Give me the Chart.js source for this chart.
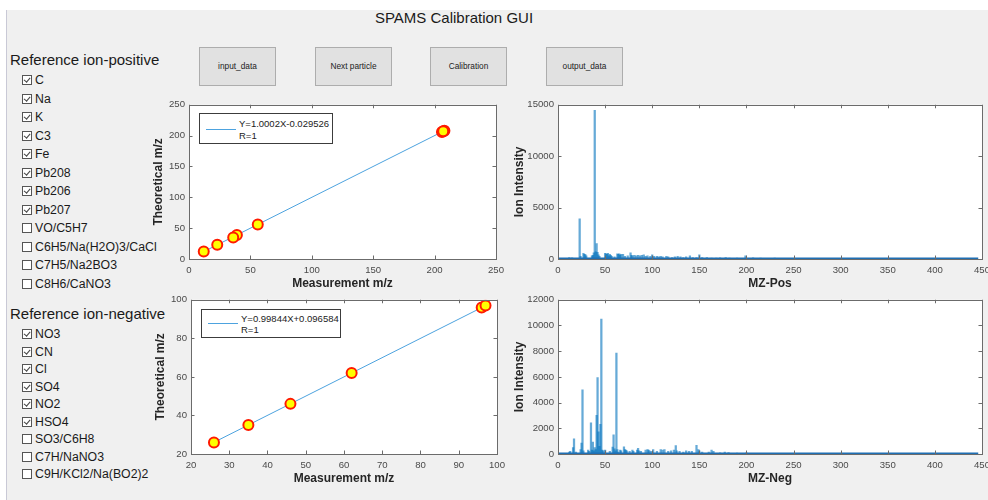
<!DOCTYPE html>
<html>
<head>
<meta charset="utf-8">
<script src="https://cdn.jsdelivr.net/npm/chart.js@4.4.1/dist/chart.umd.min.js"></script>
<style>
  html, body { margin: 0; padding: 0; width: 988px; height: 500px; overflow: hidden; background: #fff; }
  body { position: relative; font-family: "Liberation Sans", Arial, sans-serif; color: #1a1a1a; }
  #panel { position: absolute; left: 6px; top: 10px; right: 0; bottom: 0; background: #f0f0f0; border-left: 1px solid #c9c9d6; }
  .abs { position: absolute; white-space: nowrap; }
  #title { left: 0; width: 908px; top: 9px; text-align: center; font-size: 15px; line-height: 18px; }
  .heading { font-size: 15px; line-height: 18px; left: 10px; }
  .item { font-size: 12.3px; line-height: 14px; left: 35px; }
  .box { position: absolute; width: 8px; height: 8px; border: 1px solid #555; background: #fff; left: 22px; }
  .box.on::after { content: ''; position: absolute; left: 2.3px; top: -0.2px; width: 2.6px; height: 5.4px;
    border: solid #444; border-width: 0 1.2px 1.2px 0; transform: rotate(40deg); }
  .btn { position: absolute; top: 47px; width: 75px; height: 37px; background: #e1e1e1; border: 1px solid #adadad;
    font-size: 8.3px; line-height: 37px; text-align: center; color: #222; }
  canvas { position: absolute; }
  .legend { position: absolute; background: #fff; border: 1px solid #3c3c3c; }
  .legend .ln { position: absolute; height: 1px; background: #4da3df; width: 30px; }
  .legend .tx { position: absolute; font-size: 9.5px; line-height: 11px; color: #222; white-space: nowrap; }
</style>
</head>
<body>
<div id="panel"></div>
<div id="title" class="abs">SPAMS Calibration GUI</div>

<div class="btn" style="left:199px">input_data</div>
<div class="btn" style="left:315px">Next particle</div>
<div class="btn" style="left:430px">Calibration</div>
<div class="btn" style="left:546px">output_data</div>

<div id="ions"></div>

<canvas id="calPos" width="363" height="200" style="left:147px;top:95px"></canvas>
<canvas id="calNeg" width="362" height="200" style="left:149px;top:290px"></canvas>
<canvas id="specPos" width="488" height="200" style="left:508px;top:95px"></canvas>
<canvas id="specNeg" width="488" height="200" style="left:508px;top:290px"></canvas>

<div class="legend" style="left:199px;top:113px;width:132px;height:29px">
  <div class="ln" style="left:6px;top:15px"></div>
  <div class="tx" style="left:39px;top:4px">Y=1.0002X-0.029526</div>
  <div class="tx" style="left:39px;top:16px">R=1</div>
</div>
<div class="legend" style="left:201px;top:309px;width:138px;height:27px">
  <div class="ln" style="left:6px;top:13px"></div>
  <div class="tx" style="left:39px;top:3px">Y=0.99844X+0.096584</div>
  <div class="tx" style="left:39px;top:14px">R=1</div>
</div>

<script>
// ---- reference ion lists (GUI check boxes) ----
var posIons = ["C", "Na", "K", "C3", "Fe", "Pb208", "Pb206", "Pb207", "VO/C5H7", "C6H5/Na(H2O)3/CaCl", "C7H5/Na2BO3", "C8H6/CaNO3"];
var posChecked = [1, 1, 1, 1, 1, 1, 1, 1, 0, 0, 0, 0];
var negIons = ["NO3", "CN", "Cl", "SO4", "NO2", "HSO4", "SO3/C6H8", "C7H/NaNO3", "C9H/KCl2/Na(BO2)2"];
var negChecked = [1, 1, 1, 1, 1, 1, 0, 0, 0];

// ---- calibration points ----
var posMeasured = [12, 23, 39, 36, 56, 208, 206, 207];
var posTheory   = [12, 23, 39, 35, 56, 208, 206, 207];
var posFit = { slope: 1.0002, intercept: -0.029526 };

var negMeasured = [62, 26, 35, 96, 46, 97];
var negTheory   = [62, 26, 35, 96, 46, 97];
var negFit = { slope: 0.99844, intercept: 0.096584 };

// ---- spectra (m/z, intensity) ----
var posMz  = [12, 15, 23, 24, 27, 28, 29, 30, 36, 37, 38, 39, 40, 41, 42, 43, 44, 50, 51, 52, 53, 54, 55, 56, 57, 60,
              63, 64, 65, 66, 67, 69, 71, 74, 77, 78, 79, 81, 83, 85, 87, 89, 91, 93, 95, 98, 100, 102, 105, 107, 109,
              111, 115, 117, 121, 124, 127, 130, 133, 136, 140, 143, 147, 150, 153, 158, 163, 168, 172, 178, 182, 190,
              199, 207, 215, 230, 248];
var posInt = [150, 120, 3900, 250, 550, 450, 420, 300, 300, 350, 600, 14450, 700, 1500, 650, 400, 250, 550, 500, 450, 550,
              300, 450, 350, 250, 200, 500, 450, 500, 350, 450, 450, 250, 300, 600, 350, 300, 350, 300, 350, 300, 350,
              400, 250, 300, 250, 400, 250, 250, 200, 250, 200, 250, 200, 150, 200, 250, 200, 150, 200, 300, 150, 150,
              400, 150, 150, 100, 100, 120, 150, 100, 100, 300, 120, 80, 80, 60];

var negMz  = [12, 13, 16, 17, 19, 24, 25, 26, 27, 32, 33, 35, 36, 37, 38, 39, 40, 41, 42, 43, 44, 45, 46, 47, 48, 50, 55,
              58, 59, 60, 61, 62, 63, 64, 66, 67, 70, 71, 72, 73, 76, 79, 80, 84, 85, 86, 88, 93, 95, 96, 97, 99, 101,
              105, 109, 111, 113, 117, 120, 123, 125, 126, 129, 133, 136, 139, 142, 147, 149, 150, 153, 160, 163, 165,
              172, 177, 181, 190, 200, 210];
var negInt = [150, 200, 500, 1180, 150, 350, 850, 5000, 250, 300, 200, 2420, 300, 920, 250, 500, 350, 3000, 5950, 1720,
              600, 2300, 10500, 300, 250, 300, 200, 540, 1500, 400, 250, 7850, 350, 150, 300, 250, 550, 350, 300, 250,
              200, 300, 200, 300, 450, 250, 200, 300, 350, 300, 250, 200, 350, 200, 350, 300, 350, 200, 250, 300, 650,
              250, 200, 150, 250, 200, 200, 680, 350, 250, 150, 150, 300, 200, 100, 150, 120, 80, 100, 60];

// low-level noise floor along the whole spectrum
var floorMz = [0, 446];
var posFloor = [70, 70];
var negFloor = [60, 60];

// ---- check box list ----
function addList(heading, y0, names, checked, y1, dy) {
  var host = document.getElementById("ions");
  var h = document.createElement("div");
  h.className = "abs heading";
  h.style.top = (y0 - 9) + "px";
  h.textContent = heading;
  host.appendChild(h);
  names.forEach(function (n, i) {
    var cy = y1 + dy * i;
    var b = document.createElement("span");
    b.className = "box" + (checked[i] ? " on" : "");
    b.style.top = (cy - 5) + "px";
    host.appendChild(b);
    var t = document.createElement("div");
    t.className = "abs item";
    t.style.top = (cy - 7) + "px";
    t.textContent = n;
    host.appendChild(t);
  });
}
addList("Reference ion-positive", 60, posIons, posChecked, 80.3, 18.5);
addList("Reference ion-negative", 314, negIons, negChecked, 334.3, 17.5);

// ---- matlab style: white plot area, box + inward ticks ----
var matlabBox = {
  id: "matlabBox",
  beforeDraw: function (chart) {
    var a = chart.chartArea, ctx = chart.ctx;
    ctx.save();
    ctx.fillStyle = "#ffffff";
    ctx.fillRect(a.left, a.top, a.right - a.left, a.bottom - a.top);
    ctx.restore();
  },
  afterDraw: function (chart) {
    var a = chart.chartArea, ctx = chart.ctx;
    var xs = chart.scales.x, ys = chart.scales.y, L = 3.5;
    ctx.save();
    ctx.strokeStyle = "#6b6b6b";
    ctx.lineWidth = 1;
    ctx.beginPath();
    xs.ticks.forEach(function (t) {
      var px = Math.round(xs.getPixelForValue(t.value)) + 0.5;
      ctx.moveTo(px, a.bottom); ctx.lineTo(px, a.bottom - L);
      ctx.moveTo(px, a.top); ctx.lineTo(px, a.top + L);
    });
    ys.ticks.forEach(function (t) {
      var py = Math.round(ys.getPixelForValue(t.value)) + 0.5;
      ctx.moveTo(a.left, py); ctx.lineTo(a.left + L, py);
      ctx.moveTo(a.right, py); ctx.lineTo(a.right - L, py);
    });
    ctx.stroke();
    ctx.strokeRect(Math.round(a.left) + 0.5, Math.round(a.top) + 0.5,
                   Math.round(a.right - a.left), Math.round(a.bottom - a.top));
    ctx.restore();
  }
};

var tickFont = { family: "Liberation Sans, Arial, sans-serif", size: 9.6 };
var titleFont = { family: "Liberation Sans, Arial, sans-serif", size: 12, weight: "bold" };

function axis(min, max, step, title, isX, width) {
  return {
    type: "linear", min: min, max: max, offset: false,
    grid: { display: false, drawTicks: false, offset: false },
    border: { display: false },
    ticks: { stepSize: step, font: tickFont, color: "#4a4a4a", padding: isX ? 6 : 4,
             autoSkip: false, maxRotation: 0,
             callback: function (v) { return String(v); } },
    title: { display: true, text: title, font: titleFont, color: "#262626", padding: { top: 4, bottom: 4 } },
    afterFit: function (s) { if (isX) s.height = 36; else s.width = width; }
  };
}

function pts(xs, ys) { return xs.map(function (x, i) { return { x: x, y: ys[i] }; }); }

function fitLine(xs, fit) {
  var lo = Math.min.apply(null, xs), hi = Math.max.apply(null, xs);
  return [lo, hi].map(function (x) { return { x: x, y: fit.slope * x + fit.intercept }; });
}

function calChart(id, meas, theo, fit, xr, yr, yw) {
  new Chart(document.getElementById(id), {
    type: "scatter",
    data: {
      datasets: [
        { data: pts(meas, theo), pointRadius: 5, pointBorderWidth: 2,
          pointBackgroundColor: "#ffff00", pointBorderColor: "#ff1a00" },
        { data: fitLine(meas, fit), showLine: true, pointRadius: 0,
          borderColor: "#4da3df", borderWidth: 1 }
      ]
    },
    options: {
      responsive: false, animation: false, devicePixelRatio: 1,
      layout: { padding: { left: 0, top: 9, right: 12, bottom: 0 } },
      plugins: { legend: { display: false }, tooltip: { enabled: false } },
      scales: {
        x: axis(xr[0], xr[1], xr[2], "Measurement m/z", true),
        y: axis(yr[0], yr[1], yr[2], "Theoretical m/z", false, yw)
      }
    },
    plugins: [matlabBox]
  });
}

function specChart(id, mz, inten, floorY, ymax, ystep, xtitle) {
  new Chart(document.getElementById(id), {
    type: "bar",
    data: {
      datasets: [
        { type: "line", data: pts(floorMz, floorY), borderColor: "#1f6fb3", borderWidth: 1.5, pointRadius: 0 },
        { data: pts(mz, inten), backgroundColor: "rgba(0,114,189,0.6)", barThickness: 1.6, grouped: false }
      ]
    },
    options: {
      responsive: false, animation: false, devicePixelRatio: 1,
      layout: { padding: { left: 0, top: 9, right: 13, bottom: 0 } },
      plugins: { legend: { display: false }, tooltip: { enabled: false } },
      scales: {
        x: axis(0, 450, 50, xtitle, true),
        y: axis(0, ymax, ystep, "Ion Intensity", false, 50)
      }
    },
    plugins: [matlabBox]
  });
}

calChart("calPos", posMeasured, posTheory, posFit, [0, 250, 50], [0, 250, 50], 42);
calChart("calNeg", negMeasured, negTheory, negFit, [20, 100, 10], [20, 100, 20], 42);
specChart("specPos", posMz, posInt, posFloor, 15000, 5000, "MZ-Pos");
specChart("specNeg", negMz, negInt, negFloor, 12000, 2000, "MZ-Neg");
</script>
</body>
</html>
